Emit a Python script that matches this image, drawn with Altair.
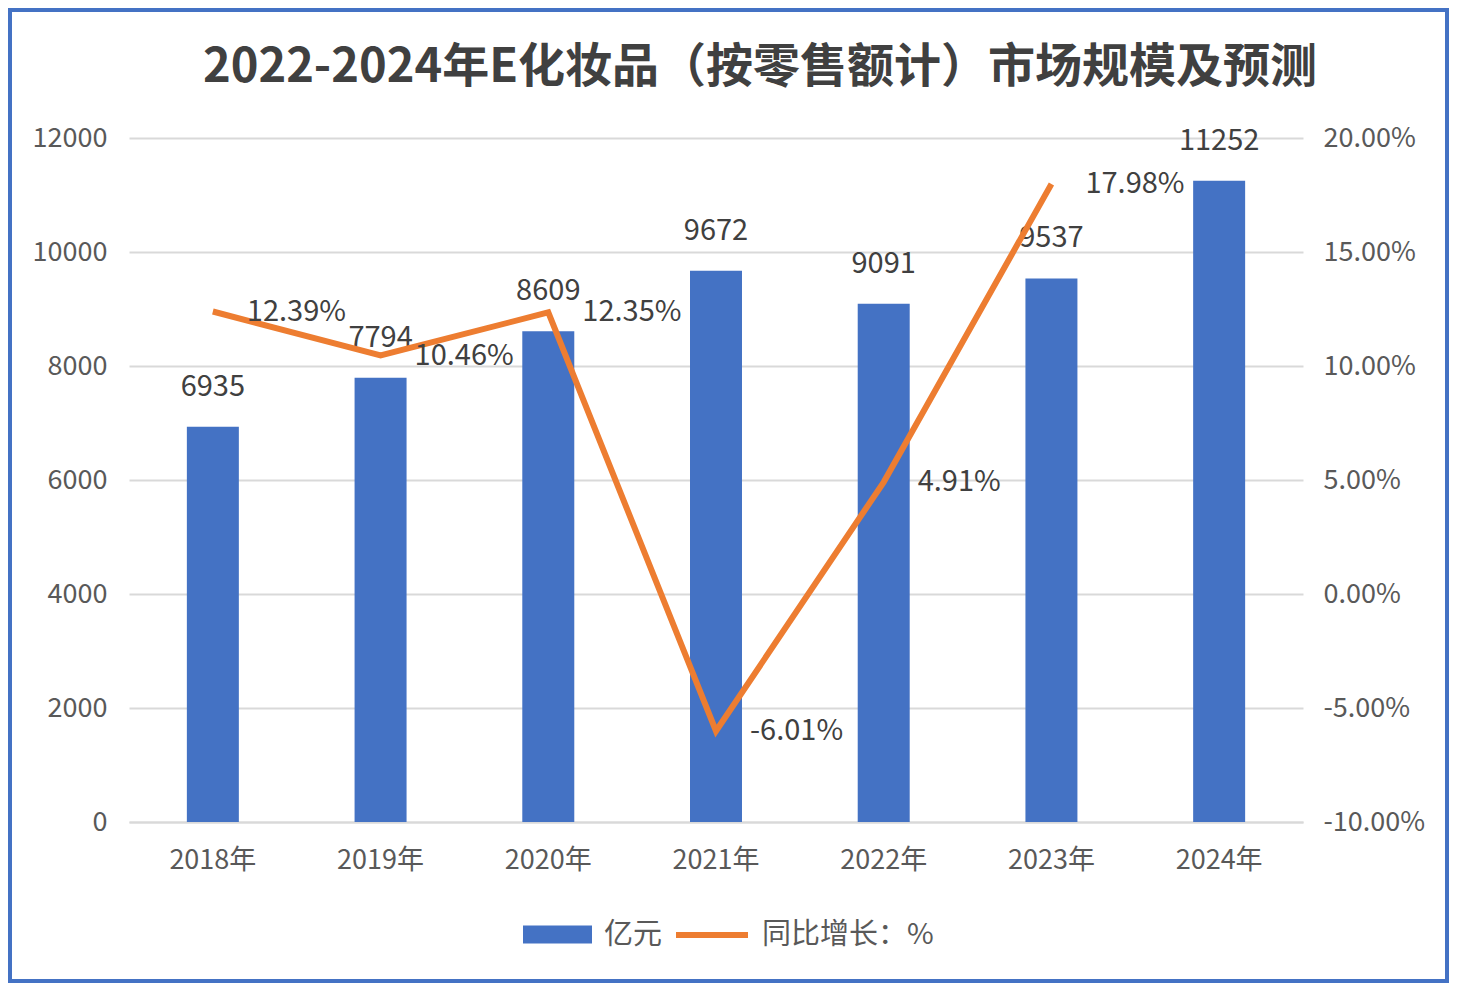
import altair as alt
import pandas as pd

years = ["2018年", "2019年", "2020年", "2021年", "2022年", "2023年", "2024年"]
sales = [6935, 7794, 8609, 9672, 9091, 9537, 11252]
growth_years = ["2018年", "2019年", "2020年", "2021年", "2022年", "2023年"]
growth = [12.39, 10.46, 12.35, -6.01, 4.91, 17.98]
left_ticks = [0, 2000, 4000, 6000, 8000, 10000, 12000]
right_ticks = [-10, -5, 0, 5, 10, 15, 20]
title_text = "2022-2024年E化妆品（按零售额计）市场规模及预测"
bar_series = "亿元"
line_series = "同比增长：%"

FONT = "Noto Sans CJK SC"
GREY = "#595959"
DARK = "#404040"
BLUE = "#4472C4"
ORANGE = "#ED7D31"

bar_df = pd.DataFrame({"year": years, "value": sales, "series": bar_series})
line_df = pd.DataFrame({
    "year": growth_years,
    "rate": growth,
    "label": [f"{g:.2f}%" for g in growth],
    "series": line_series,
})

x = alt.X(
    "year:N",
    sort=years,
    scale=alt.Scale(domain=years, paddingInner=0.69, paddingOuter=0.345),
    axis=alt.Axis(title=None, labelAngle=0, labelFontSize=27, labelColor=GREY,
                  labelFont=FONT, labelPadding=25, ticks=False,
                  domainColor="#d9d9d9", domainWidth=2, grid=False),
)

y_left = alt.Y(
    "value:Q",
    scale=alt.Scale(domain=[0, 12000], nice=False),
    axis=alt.Axis(values=left_ticks, title=None, labelFontSize=27, labelColor=GREY,
                  labelFont=FONT, labelPadding=22, ticks=False, domain=False,
                  gridColor="#d9d9d9", gridWidth=2, format="d"),
)

y_right = alt.Y(
    "rate:Q",
    scale=alt.Scale(domain=[-10, 20], nice=False),
    axis=alt.Axis(orient="right", values=right_ticks, title=None, labelFontSize=27,
                  labelColor=GREY, labelFont=FONT, labelPadding=20, ticks=False,
                  domain=False, grid=False,
                  labelExpr="(datum.value < 0 ? '-' : '') + format(abs(datum.value), '.2f') + '%'"),
)

bars = alt.Chart(bar_df).mark_bar().encode(
    x=x,
    y=y_left,
    fill=alt.Fill(
        "series:N",
        scale=alt.Scale(domain=[bar_series], range=[BLUE]),
        legend=alt.Legend(orient="none", legendX=394, legendY=762, title=None,
                          symbolType="M-1,-0.26H1V0.26H-1Z", symbolSize=4761,
                          symbolStrokeWidth=0, labelFontSize=29, labelColor=GREY,
                          labelFont=FONT, labelOffset=12, padding=0, labelLimit=400),
    ),
)

bar_text = alt.Chart(bar_df).mark_text(
    dy=-40, baseline="middle", fontSize=29, color=DARK, font=FONT
).encode(x=x, y=y_left, text=alt.Text("value:Q", format="d"))

line = alt.Chart(line_df).mark_line(strokeWidth=6).encode(
    x=x,
    y=y_right,
    stroke=alt.Stroke(
        "series:N",
        scale=alt.Scale(domain=[line_series], range=[ORANGE]),
        legend=alt.Legend(orient="none", legendX=544, legendY=758, title=None,
                          symbolType="stroke", symbolSize=5184,
                          symbolStrokeWidth=6, labelFontSize=29, labelColor=GREY,
                          labelFont=FONT, labelOffset=11, padding=0, labelLimit=400),
    ),
)

line_text = alt.Chart(line_df).mark_text(
    align="left", dx=34, baseline="middle", fontSize=29, color=DARK, font=FONT
).encode(x=x, y=y_right, text="label:N")

title = alt.Chart(pd.DataFrame({"t": [title_text]})).mark_text(
    fontSize=47, fontWeight="bold", color=DARK, font=FONT, baseline="middle"
).encode(x=alt.value(631), y=alt.value(-70), text="t:N")

border = alt.Chart(pd.DataFrame({"a": [0]})).mark_rect(
    filled=False, stroke=BLUE, strokeWidth=4
).encode(x=alt.value(-119), x2=alt.value(1318), y=alt.value(-128), y2=alt.value(843))

chart = alt.layer(
    alt.layer(bars, bar_text),
    alt.layer(line, line_text),
    title,
    border,
).resolve_scale(y="independent", fill="independent", stroke="independent").properties(
    width=1174,
    height=684,
    background="white",
    autosize=alt.AutoSizeParams(type="none"),
    padding={"left": 121, "top": 130, "right": 146, "bottom": 161},
).configure_view(strokeWidth=0)

chart.save("out.html", embed_options={"renderer": "svg", "actions": False})
